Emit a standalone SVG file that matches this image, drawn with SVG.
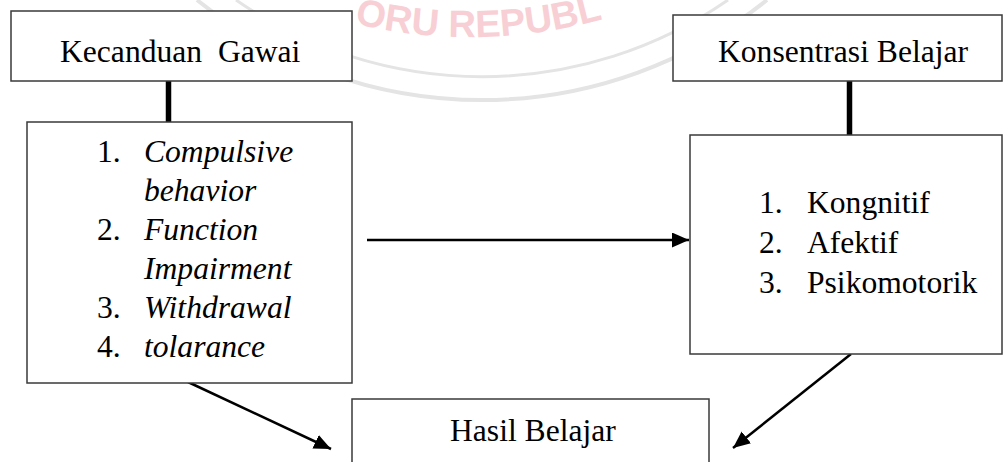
<svg xmlns="http://www.w3.org/2000/svg" width="1003" height="462" viewBox="0 0 1003 462">
  <style>
    .box { fill: #ffffff; stroke: #3a3a3a; stroke-width: 1.5; }
    .t { font-family: "Liberation Serif", "Times New Roman", serif; font-size: 31.6px; fill: #000; }
    .i { font-style: italic; }
    .conn { stroke: #000; stroke-width: 2.5; fill: none; }
    .thick { stroke: #000; stroke-width: 5.5; fill: none; }
    .wm { fill: none; stroke: #e4e4e4; }
    .wmt { font-family: "Liberation Sans", Arial, sans-serif; font-weight: bold; font-size: 38px; fill: #f7cfd4; }
  </style>
  <defs>
    <marker id="arrow" markerUnits="userSpaceOnUse" markerWidth="19" markerHeight="17" refX="17" refY="7.5" orient="auto">
      <path d="M0,0 L17,7.5 L0,15 z" fill="#000"/>
    </marker>
    <path id="wmpath" d="M 270 -4.7 A 500 500 0 0 0 670 -4.7"/>
  </defs>
  <rect width="1003" height="462" fill="#ffffff"/>

  <g id="watermark">
    <path class="wm" stroke-width="4" d="M 197 0 A 456 456 0 0 0 767 0"/>
    <path class="wm" stroke-width="3" d="M 236 0 A 433 433 0 0 0 728 0"/>
    <text class="wmt"><textPath href="#wmpath" startOffset="89">ORU REPUBL</textPath></text>
  </g>

  <g id="connectors">
    <line class="thick" x1="168.5" y1="81" x2="168.5" y2="122"/>
    <line class="thick" x1="849.5" y1="81" x2="849.5" y2="135"/>
    <line class="conn" x1="367" y1="240" x2="689" y2="240" marker-end="url(#arrow)"/>
    <line class="conn" x1="188" y1="382" x2="331" y2="449" marker-end="url(#arrow)"/>
    <line class="conn" x1="851" y1="354" x2="733" y2="448" marker-end="url(#arrow)"/>
  </g>

  <g id="kecanduan-gawai">
    <rect class="box" x="11" y="11" width="341" height="70"/>
    <text class="t" x="60" y="62" xml:space="preserve">Kecanduan  Gawai</text>
  </g>

  <g id="konsentrasi-belajar">
    <rect class="box" x="673" y="15" width="329" height="66"/>
    <text class="t" x="718" y="62">Konsentrasi Belajar</text>
  </g>

  <g id="indikator-gawai">
    <rect class="box" x="27" y="122" width="325" height="261"/>
    <text class="t" x="97" y="162">1.</text>
    <text class="t i" x="144" y="162">Compulsive</text>
    <text class="t i" x="144" y="201">behavior</text>
    <text class="t" x="97" y="240">2.</text>
    <text class="t i" x="144" y="240">Function</text>
    <text class="t i" x="144" y="279">Impairment</text>
    <text class="t" x="97" y="318">3.</text>
    <text class="t i" x="144" y="318">Withdrawal</text>
    <text class="t" x="97" y="357">4.</text>
    <text class="t i" x="144" y="357">tolarance</text>
  </g>

  <g id="indikator-konsentrasi">
    <rect class="box" x="690" y="135" width="312" height="219"/>
    <text class="t" x="759" y="213">1.</text>
    <text class="t" x="807" y="213">Kongnitif</text>
    <text class="t" x="759" y="253">2.</text>
    <text class="t" x="807" y="253">Afektif</text>
    <text class="t" x="759" y="293">3.</text>
    <text class="t" x="807" y="293">Psikomotorik</text>
  </g>

  <g id="hasil-belajar">
    <rect class="box" x="352" y="399" width="357" height="75"/>
    <text class="t" x="450" y="441">Hasil Belajar</text>
  </g>
</svg>
